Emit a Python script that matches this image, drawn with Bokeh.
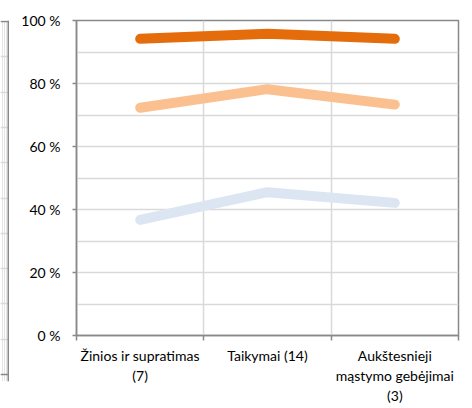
from bokeh.plotting import figure
from bokeh.layouts import row
from bokeh.models import FixedTicker, PrintfTickFormatter, ColumnDataSource, Span, Grid
from bokeh.embed import file_html
from bokeh.resources import INLINE

categories = ["Žinios ir supratimas\n(7)", "Taikymai (14)", "Aukštesnieji\nmąstymo gebėjimai\n(3)"]
series_dark = [94.2, 95.8, 94.2]
series_light = [72.3, 78.2, 73.3]
series_blue = [36.7, 45.5, 42.1]
y_ticks = [0, 20, 40, 60, 80, 100]
y_minor = [10, 30, 50, 70, 90]

FONT = "Lato"
GRAY = "#898989"
GRID = "#d9d9d9"
W, H = 464, 408
LW = 9

xs = [i + 0.5 for i in range(len(categories))]

# sliver of the neighbouring chart at the left edge
left = figure(frame_width=LW, frame_height=361, output_backend="svg", toolbar_location=None,
              title=None, x_axis_location=None, y_axis_location=None,
              x_range=(0, LW), y_range=(-2, 100.3),
              min_border_left=0, min_border_right=0, min_border_top=12, min_border_bottom=H - 373)
left.outline_line_color = None
left.background_fill_color = "white"
left.add_layout(Grid(dimension=1, ticker=FixedTicker(ticks=list(range(10, 100, 10))),
                     grid_line_color=GRID, grid_line_width=1.5))
left.add_layout(Span(location=0, dimension="width", line_color=GRAY, line_width=1.5))
left.add_layout(Span(location=100, dimension="width", line_color=GRAY, line_width=1.5))
left.add_layout(Span(location=8, dimension="height", line_color=GRAY, line_width=2))

p = figure(width=W - LW, height=H, output_backend="svg", toolbar_location=None,
           x_range=(0, len(categories)), y_range=(0, 100),
           min_border_left=76 - LW, min_border_right=W - 458, min_border_top=20,
           min_border_bottom=H - 335)

p.outline_line_color = GRAY
p.outline_line_width = 1.5

for vals, col in [(series_blue, "#dce6f2"), (series_light, "#fac090"), (series_dark, "#e46c0a")]:
    src = ColumnDataSource(dict(x=xs, y=vals))
    p.line("x", "y", source=src, line_color=col, line_width=10,
           line_cap="round", line_join="round")

# x axis
p.xaxis.ticker = FixedTicker(ticks=xs, minor_ticks=list(range(len(categories) + 1)))
p.xaxis.major_label_overrides = {x: c for x, c in zip(xs, categories)}
p.xaxis.major_tick_line_color = None
p.xaxis.major_tick_out = 5
p.xaxis.minor_tick_out = 5
p.xaxis.minor_tick_in = 0
p.xaxis.minor_tick_line_color = GRAY
p.xaxis.minor_tick_line_width = 1.5
p.xaxis.axis_line_color = GRAY
p.xaxis.axis_line_width = 1.5
p.xaxis.major_label_text_font = FONT
p.xaxis.major_label_text_font_size = "14px"
p.xaxis.major_label_text_color = "black"
p.xaxis.major_label_text_line_height = 1.2
p.xaxis.major_label_standoff = 6
p.xgrid.ticker = FixedTicker(ticks=list(range(len(categories) + 1)))
p.xgrid.grid_line_color = GRID
p.xgrid.grid_line_width = 1.5

# y axis
p.yaxis.ticker = FixedTicker(ticks=y_ticks, minor_ticks=y_minor)
p.yaxis.formatter = PrintfTickFormatter(format="%d %%")
p.yaxis.major_tick_out = 4
p.yaxis.major_tick_in = 0
p.yaxis.minor_tick_out = 0
p.yaxis.minor_tick_in = 0
p.yaxis.major_tick_line_color = GRAY
p.yaxis.major_tick_line_width = 1.5
p.yaxis.axis_line_color = GRAY
p.yaxis.axis_line_width = 1.5
p.yaxis.major_label_text_font = FONT
p.yaxis.major_label_text_font_size = "14px"
p.yaxis.major_label_text_color = "black"
p.yaxis.major_label_standoff = 12
p.ygrid.grid_line_color = GRID
p.ygrid.grid_line_width = 1.5
p.ygrid.minor_grid_line_color = GRID
p.ygrid.minor_grid_line_width = 1.5

layout = row(left, p, spacing=0)
open("out.html", "w").write(file_html(layout, INLINE))
